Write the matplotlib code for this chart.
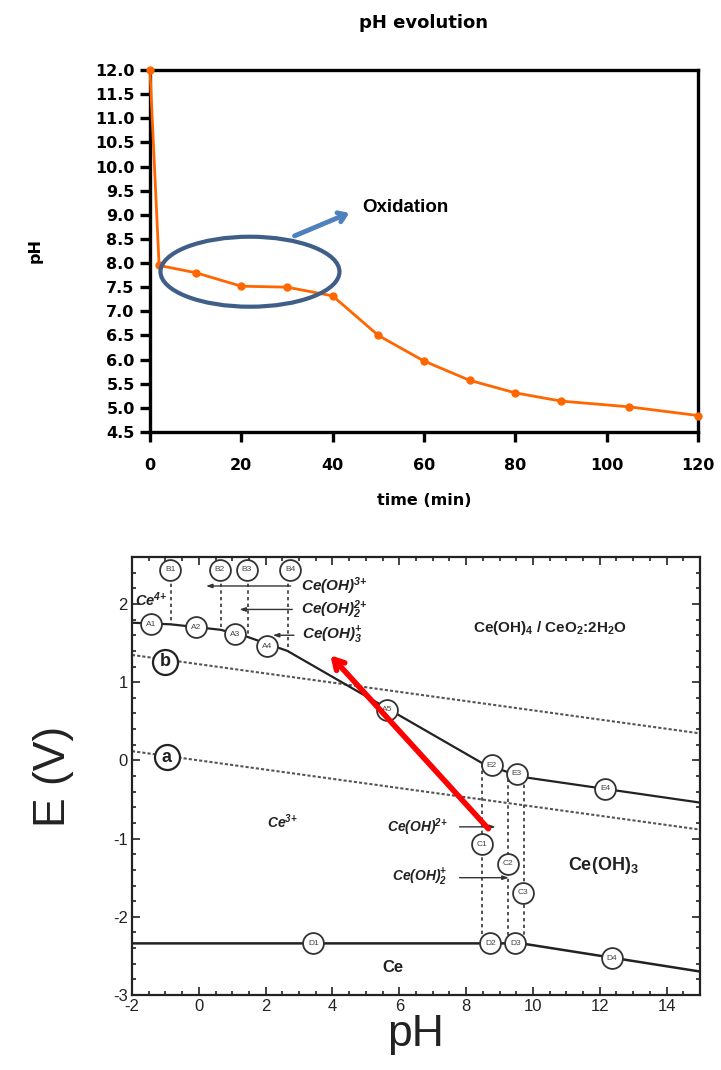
import numpy as np
import matplotlib
matplotlib.use("Agg")
import matplotlib.pyplot as plt
from matplotlib.patches import Ellipse

plt.rcParams['font.family'] = ['Liberation Sans', 'DejaVu Sans']
plt.rcParams['mathtext.default'] = 'regular'
plt.rcParams['axes.unicode_minus'] = False

# pH evolution data
time_min = [0, 2, 10, 20, 30, 40, 50, 60, 70, 80, 90, 105, 120]
ph_vals = [12.0, 7.95, 7.8, 7.52, 7.5, 7.32, 6.5, 5.97, 5.57, 5.31, 5.14, 5.02, 4.84]
ph_ticks = np.arange(4.5, 12.01, 0.5)
time_ticks = [0, 20, 40, 60, 80, 100, 120]

# Pourbaix diagram lines
lineA_ph = [-2, -0.85, 0.65, 1.45, 2.65, 8.5, 9.65, 15]
lineA_E = [1.76, 1.74, 1.67, 1.58, 1.40, -0.04, -0.21, -0.54]
lineD_ph = [-2, 9.65, 15]
lineD_E = [-2.34, -2.34, -2.70]
water_ph = [-2, 15]
water_a = [0.118, -0.885]
water_b = [1.348, 0.345]

# labelled circles
circ_names = ['A1', 'A2', 'A3', 'A4', 'A5', 'E2', 'E3', 'E4',
              'B1', 'B2', 'B3', 'B4', 'C1', 'C2', 'C3',
              'D1', 'D2', 'D3', 'D4']
circ_ph = [-1.42, -0.08, 1.08, 2.03, 5.63, 8.77, 9.52, 12.16,
           -0.86, 0.62, 1.43, 2.73, 8.47, 9.24, 9.70,
           3.43, 8.72, 9.47, 12.36]
circ_E = [1.74, 1.70, 1.61, 1.46, 0.65, -0.06, -0.17, -0.36,
          2.44, 2.44, 2.44, 2.44, -1.07, -1.32, -1.69,
          -2.34, -2.34, -2.34, -2.53]

# dashed verticals: x, y from, y to
dash_x = [-0.83, 0.67, 1.47, 2.68, 8.47, 9.25, 9.72]
dash_top = [2.35, 2.35, 2.35, 2.35, -0.05, -0.15, -0.22]
dash_bot = [1.74, 1.66, 1.58, 1.40, -2.32, -2.32, -2.32]

# small black arrows (start, end)
arr_x0 = [2.83, 2.88, 2.93, 7.72, 7.72]
arr_x1 = [0.13, 1.13, 2.13, 8.97, 9.36]
arr_E = [2.23, 1.93, 1.60, -0.85, -1.50]

fig = plt.figure(figsize=(7.21, 10.7), dpi=100)

# ---------- top: pH evolution ----------
ax1 = fig.add_axes([0.208, 0.5963, 0.760, 0.3383])
ax1.plot(time_min, ph_vals, color='#ff6600', lw=2, marker='o', ms=5, clip_on=False, zorder=3)
ax1.set_xlim(0, 120)
ax1.set_ylim(4.5, 12.0)
ax1.set_yticks(ph_ticks)
ax1.set_yticklabels(['%.1f' % v for v in ph_ticks])
ax1.set_xticks(time_ticks)
for s in ax1.spines.values():
    s.set_linewidth(2.4)
ax1.tick_params(direction='out', length=7, width=2.4, labelsize=11.5, pad=4)
ax1.tick_params(axis='x', pad=12)
for lab in ax1.get_xticklabels() + ax1.get_yticklabels():
    lab.set_fontweight('bold')
    lab.set_family('DejaVu Sans')
ax1.set_title('pH evolution', fontsize=13, fontweight='bold', pad=30, family='DejaVu Sans')
ax1.set_xlabel('time (min)', fontsize=11.5, fontweight='bold', labelpad=14, family='DejaVu Sans')
ax1.set_ylabel('pH', fontsize=11.5, fontweight='bold', labelpad=38, family='DejaVu Sans')

ell = Ellipse((21.9, 7.82), 39.2, 1.45, fill=False, edgecolor='#3f5e88', lw=3, zorder=4)
ax1.add_patch(ell)
ax1.annotate('', xy=(44.2, 9.06), xytext=(31.1, 8.54),
             arrowprops=dict(arrowstyle='->, head_length=0.5, head_width=0.35',
                             color='#4f81bd', lw=3.5))
ax1.text(46.5, 9.15, 'Oxidation', fontsize=13.5, fontweight='bold', va='center', ha='left')

# ---------- bottom: Pourbaix diagram ----------
ax2 = fig.add_axes([0.1831, 0.0701, 0.7878, 0.4093])
ax2.set_xlim(-2, 15)
ax2.set_ylim(-3, 2.6)
ax2.set_xticks(np.arange(-2, 15, 2))
ax2.set_xticks(np.arange(-2, 15.01, 0.5), minor=True)
ax2.set_yticks([-3, -2, -1, 0, 1, 2])
ax2.set_yticks(np.arange(-3, 2.61, 0.2), minor=True)
ax2.tick_params(which='both', direction='in', top=True, right=True, color='#222222', width=1.2)
ax2.tick_params(which='major', length=6, labelsize=12, pad=3, labelcolor='#222222')
ax2.tick_params(which='minor', length=3)
for s in ax2.spines.values():
    s.set_linewidth(1.6)
    s.set_color('#222222')

ax2.plot(water_ph, water_b, ls=(0, (1.5, 1)), color='#555555', lw=1.5)
ax2.plot(water_ph, water_a, ls=(0, (1.5, 1)), color='#555555', lw=1.5)
ax2.plot(lineA_ph, lineA_E, color='#222222', lw=1.6)
ax2.plot(lineD_ph, lineD_E, color='#222222', lw=1.8)
for x, y0, y1 in zip(dash_x, dash_top, dash_bot):
    ax2.plot([x, x], [y0, y1], ls=(0, (2, 2)), color='#333333', lw=1.2)

for x0, x1, y in zip(arr_x0, arr_x1, arr_E):
    ax2.annotate('', xy=(x1, y), xytext=(x0, y),
                 arrowprops=dict(arrowstyle='-|>, head_length=0.35, head_width=0.12',
                                 color='#333333', lw=1.0))

for name, x, y in zip(circ_names, circ_ph, circ_E):
    ax2.plot(x, y, 'o', ms=15, mfc='white', mec='#333333', mew=1.3, zorder=5)
    ax2.text(x, y, name, fontsize=6, ha='center', va='center', color='#444444', zorder=6)

for name, x, y in zip(['a', 'b'], [-0.96, -1.01], [0.04, 1.26]):
    ax2.plot(x, y, 'o', ms=18, mfc='white', mec='#222222', mew=1.6, zorder=5)
    ax2.text(x, y, name, fontsize=13, fontweight='bold', ha='center', va='center',
             color='#222222', zorder=6)

tstyle = dict(fontweight='bold', style='italic', color='#222222', va='center')
ax2.text(3.05, 2.23, 'Ce(OH)$^{3{+}}$', fontsize=11, ha='left', **tstyle)
ax2.text(3.05, 1.93, 'Ce(OH)$_2^{2{+}}$', fontsize=11, ha='left', **tstyle)
ax2.text(3.1, 1.60, 'Ce(OH)$_3^{+}$', fontsize=11, ha='left', **tstyle)
ax2.text(-1.9, 2.06, 'Ce$^{4{+}}$', fontsize=10.5, ha='left', **tstyle)
ax2.text(2.5, -0.79, 'Ce$^{3{+}}$', fontsize=10, ha='center', **tstyle)
ax2.text(7.45, -0.85, 'Ce(OH)$^{2{+}}$', fontsize=10, ha='right', **tstyle)
ax2.text(7.45, -1.50, 'Ce(OH)$_2^{+}$', fontsize=10, ha='right', **tstyle)
ax2.text(10.5, 1.69, 'Ce(OH)$_4$ / CeO$_2$:2H$_2$O', fontsize=11, fontweight='bold',
         ha='center', va='center', color='#222222')
ax2.text(12.1, -1.35, 'Ce(OH)$_3$', fontsize=13, fontweight='bold',
         ha='center', va='center', color='#222222')
ax2.text(5.8, -2.65, 'Ce', fontsize=12, fontweight='bold',
         ha='center', va='center', color='#222222')

ax2.annotate('', xy=(3.88, 1.37), xytext=(8.72, -0.90),
             arrowprops=dict(arrowstyle='->, head_length=0.7, head_width=0.4',
                             color='#ff0000', lw=4), zorder=7)

ax2.set_xlabel('pH', fontsize=32, labelpad=0, color='#222222')
ax2.set_ylabel('E (V)', fontsize=32, labelpad=28, color='#222222')

fig.savefig('out.png', dpi=100)
